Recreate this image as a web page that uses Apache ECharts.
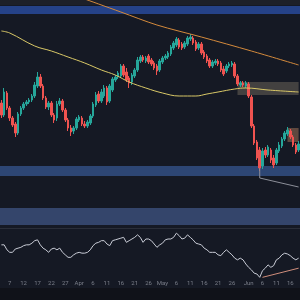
<!DOCTYPE html>
<html>
<head>
<meta charset="utf-8">
<script src="https://cdn.jsdelivr.net/npm/echarts@6/dist/echarts.min.js"></script>
<style>
  html, body { margin: 0; padding: 0; background: #151924; }
  #chart { width: 300px; height: 300px; }
</style>
</head>
<body>
<div id="chart"></div>
<script>
  // daily candles, Mar 4 -> Jun 19
  const monthSpans = [['03', 4, 31], ['04', 1, 30], ['05', 1, 31], ['06', 1, 19]]
  const categories = []
  monthSpans.forEach(([m, from, to]) => {
    for (let d = from; d <= to; d++) categories.push('2024-' + m + '-' + String(d).padStart(2, '0'))
  })

  const tickDates = ['2024-03-07', '2024-03-12', '2024-03-17', '2024-03-22', '2024-03-27', '2024-04-01',
    '2024-04-06', '2024-04-11', '2024-04-16', '2024-04-21', '2024-04-26', '2024-05-01',
    '2024-05-06', '2024-05-11', '2024-05-16', '2024-05-21', '2024-05-26', '2024-06-01',
    '2024-06-06', '2024-06-11', '2024-06-16']
  const tickText = ['7', '12', '17', '22', '27', 'Apr', '6', '11', '16', '21', '26', 'May',
    '6', '11', '16', '21', '26', 'Jun', '6', '11', '16']

  // [open, close, low, high]
  const candles = [
    [125, 113, 110, 128], [113, 136, 111, 140], [135, 120, 118, 137], [120, 110, 107, 122],
    [110, 103, 101, 112], [104, 95, 91, 106], [95, 114, 93, 116], [114, 120, 112, 122],
    [120, 124, 118, 126], [124, 126, 122, 128], [126, 128, 124, 130], [128, 132, 126, 134],
    [132, 143, 130, 146], [142, 151, 140, 156], [151, 142, 140, 154], [142, 130, 128, 144],
    [130, 121, 119, 132], [121, 125, 118, 127], [125, 113, 111, 127], [113, 108, 105, 115],
    [110, 124, 107, 127], [124, 127, 122, 130], [127, 118, 116, 129], [118, 108, 106, 120],
    [108, 100, 97, 110], [100, 96, 92, 103], [97, 100, 94, 102], [100, 109, 98, 111],
    [108, 111, 106, 113], [110, 104, 102, 112], [104, 102, 100, 107], [102, 106, 100, 108],
    [105, 112, 103, 114], [112, 124, 110, 126], [123, 133, 121, 136], [134, 127, 125, 137],
    [127, 136, 125, 139], [132, 140, 130, 143], [140, 126, 123, 142], [127, 142, 125, 144],
    [138, 149, 136, 151], [148, 151, 146, 153], [151, 155, 149, 157], [152, 162, 150, 164],
    [162, 153, 151, 164], [156, 148, 146, 160], [150, 145, 140, 152], [146, 153, 143, 155],
    [152, 158, 150, 160], [158, 168, 156, 171], [167, 171, 165, 173], [171, 168, 166, 173],
    [167, 170, 165, 172], [172, 166, 164, 174], [168, 164, 162, 170], [165, 160, 158, 167],
    [162, 157, 153, 164], [158, 167, 156, 169], [166, 170, 164, 172], [170, 172, 168, 174],
    [171, 175, 169, 177], [174, 181, 172, 183], [180, 185, 178, 187], [183, 189, 181, 191],
    [188, 181, 179, 190], [184, 180, 178, 186], [181, 185, 179, 187], [184, 190, 182, 192],
    [189, 191, 187, 194], [190, 185, 183, 192], [186, 179, 177, 188], [180, 184, 178, 186],
    [184, 175, 173, 186], [176, 171, 169, 178], [172, 167, 165, 174], [168, 162, 160, 170],
    [162, 166, 160, 168], [165, 167, 163, 169], [167, 164, 162, 169], [165, 158, 156, 167],
    [159, 154, 152, 162], [157, 162, 155, 164], [162, 164, 160, 166], [163, 165, 161, 167],
    [164, 152, 150, 166], [152, 144, 142, 154], [143, 145, 141, 147], [145, 143, 141, 147],
    [142, 145, 140, 147], [144, 132, 130, 146], [131, 102, 100, 133], [102, 85, 83, 104],
    [86, 70, 68, 88], [78, 60, 57, 81], [62, 77, 59, 80], [78, 73, 70, 81],
    [73, 81, 71, 83], [78, 68, 65, 80], [70, 63, 60, 73], [65, 78, 63, 80],
    [77, 83, 75, 86], [82, 89, 80, 91], [89, 95, 87, 97], [94, 98, 92, 101],
    [97, 91, 89, 99], [91, 83, 81, 93], [83, 76, 74, 85], [78, 84, 76, 87]
  ]

  const rsi = [
    61, 61, 55, 52, 52, 56, 57, 58, 60, 61, 61, 63, 66, 67, 61, 57, 55, 52, 56, 57,
    55, 57, 52, 49, 46, 46, 49, 51, 52, 51, 51, 52, 55, 60, 63, 64, 66, 66, 62, 60,
    66, 67, 68, 69, 70, 64, 66, 68, 70, 73, 70, 64, 68, 68, 66, 62, 58, 61, 63, 67,
    68, 68, 70, 75, 72, 68, 69, 73, 70, 67, 63, 62, 61, 57, 55, 52, 52, 52, 49, 48,
    52, 55, 52, 49, 45, 43, 45, 43, 38, 34, 31, 27, 26, 22, 30, 33, 37, 34, 36, 43,
    45, 49, 51, 50, 48, 45, 43, 45
  ]

  // [candle index, value] points
  const slowMa = [[0, 197], [3, 195], [12, 182], [18, 177], [24, 171], [30, 165], [36, 158], [41, 153],
    [46, 146], [52, 140], [58, 135], [64, 132], [70, 132], [74, 134], [78, 136], [84, 139],
    [88, 140], [96, 138], [107, 136]]
  const longMa = [[28, 231], [35, 224], [43, 216], [56, 203], [72, 191], [90, 177], [107, 163]]
  const supportLine = [[93, 60], [93, 50], [107, 41]]
  const rsiTrend = [[94, 22], [107, 33]]

  // horizontal zones [top, bottom]
  const topStrip = [228, 223]
  const topBand = [222, 214]
  const midBand = [62, 52]
  const lowBand = [20, 3]
  const grayZone = { from: 85, to: 107, top: 146, bottom: 133 }
  const orangeZone = { from: 103, to: 107, top: 100, bottom: 86 }

  const chart = echarts.init(document.getElementById('chart'))

  const band = (r, color) => [{ yAxis: r[0], itemStyle: { color: color } }, { yAxis: r[1] }]
  const box = (z, color) => [
    { xAxis: categories[z.from], yAxis: z.top, itemStyle: { color: color } },
    { xAxis: categories[z.to], yAxis: z.bottom }
  ]

  const option = {
    backgroundColor: '#151924',
    animation: false,
    grid: [
      { left: 0, right: 0, top: 0, height: 228 },
      { left: 0, right: 0, top: 229, height: 50 }
    ],
    xAxis: [
      {
        type: 'category', gridIndex: 0, data: categories, boundaryGap: true,
        axisLine: { show: true, lineStyle: { color: '#2a2e39' } },
        axisTick: { show: false }, axisLabel: { show: false }, splitLine: { show: false }
      },
      {
        type: 'category', gridIndex: 1, data: categories, boundaryGap: true,
        axisLine: { show: false }, axisTick: { show: false }, splitLine: { show: false },
        axisLabel: {
          interval: (idx, val) => tickDates.includes(val),
          formatter: (val) => tickText[tickDates.indexOf(val)],
          color: '#7b7f8a', fontSize: 6, margin: 1, fontFamily: 'Roboto'
        }
      }
    ],
    yAxis: [
      { type: 'value', gridIndex: 0, min: 0, max: 228, show: false },
      { type: 'value', gridIndex: 1, min: 20, max: 80, show: false }
    ],
    series: [
      {
        type: 'line', xAxisIndex: 0, yAxisIndex: 0, data: [], z: 1,
        markArea: {
          silent: true,
          data: [
            band(topStrip, '#1d2029'),
            band(midBand, '#2d4674'),
            band(lowBand, '#34456b'),
            box(grayZone, 'rgba(125,115,100,0.45)'),
            box(orangeZone, 'rgba(170,120,90,0.5)')
          ]
        }
      },
      {
        type: 'candlestick', xAxisIndex: 0, yAxisIndex: 0, data: candles, barWidth: 2, z: 2,
        itemStyle: {
          color: '#26a69a', color0: '#ef5350',
          borderColor: '#26a69a', borderColor0: '#ef5350', borderWidth: 1
        }
      },
      {
        type: 'line', xAxisIndex: 0, yAxisIndex: 0, data: slowMa, smooth: 0.4, showSymbol: false, z: 3,
        lineStyle: { color: '#d9c867', width: 1 }
      },
      {
        type: 'line', xAxisIndex: 0, yAxisIndex: 0, data: longMa, smooth: 0.3, showSymbol: false, z: 3,
        lineStyle: { color: '#d48a3c', width: 1 }
      },
      {
        type: 'line', xAxisIndex: 0, yAxisIndex: 0, data: [], z: 4,
        markArea: { silent: true, data: [band(topBand, 'rgba(40,72,150,0.88)')] }
      },
      {
        type: 'line', xAxisIndex: 0, yAxisIndex: 0, data: supportLine, showSymbol: false, z: 3,
        lineStyle: { color: '#8c8f99', width: 1 }
      },
      {
        type: 'line', xAxisIndex: 1, yAxisIndex: 1, data: rsi, showSymbol: false, z: 3,
        lineStyle: { color: '#c9ccd6', width: 1 }
      },
      {
        type: 'line', xAxisIndex: 1, yAxisIndex: 1, data: rsiTrend, showSymbol: false, z: 4,
        lineStyle: { color: '#cf8d7b', width: 1 }
      }
    ],
    graphic: [
      { type: 'rect', left: 0, top: 288, shape: { width: 300, height: 12 }, style: { fill: '#101219' }, z: -1 }
    ]
  }

  chart.setOption(option)
</script>
</body>
</html>
